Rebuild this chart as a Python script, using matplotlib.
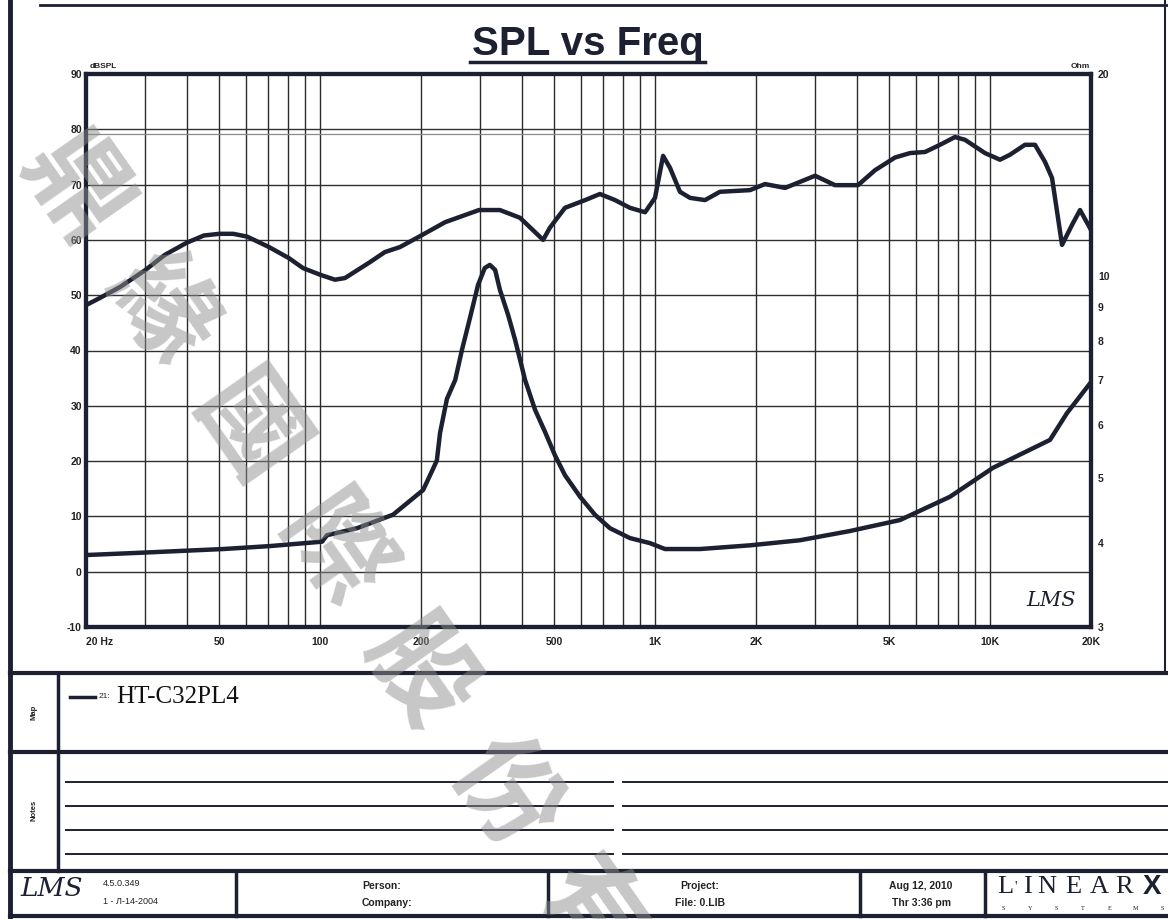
import matplotlib
matplotlib.use('Agg')
import matplotlib.pyplot as plt
from matplotlib.ticker import FixedLocator, NullLocator, NullFormatter

# ---------------- data ----------------
spl_freq = [20, 22, 25.3, 30, 34.4, 40, 45, 50, 55, 60.5, 70.4, 80.7, 88.9, 100, 110.7, 118.6,
            141, 156, 173, 199, 236, 298, 344, 395, 438, 463, 485, 538, 618, 684, 759, 841,
            933, 999, 1056, 1108, 1186, 1271, 1409, 1561, 1919, 2128, 2442, 3002, 3442, 4032,
            4532, 5200, 5766, 6392, 7086, 7852, 8412, 9652, 10700, 11460, 12700, 13610, 14580,
            15300, 16390, 17550, 18550, 20000]
spl_db = [48.2, 49.5, 51.5, 54.5, 57.3, 59.5, 60.8, 61.1, 61.1, 60.6, 58.7, 56.7, 54.9, 53.7, 52.8, 53.1,
          56.0, 57.8, 58.7, 60.7, 63.2, 65.4, 65.4, 64.0, 61.4, 60.0, 62.2, 65.8, 67.2, 68.3, 67.2, 65.8,
          65.0, 67.6, 75.2, 73.0, 68.7, 67.6, 67.2, 68.7, 69.0, 70.1, 69.4, 71.6, 69.9, 69.9,
          72.6, 74.9, 75.7, 75.9, 77.2, 78.6, 78.1, 75.7, 74.5, 75.4, 77.2, 77.2, 74.1,
          71.2, 59.1, 62.7, 65.4, 61.8]

imp_freq = [20, 29, 51.3, 70.8, 101.3, 104.8, 128.8, 165, 203, 216, 223, 228, 239, 253, 265, 280,
            296, 310, 321, 333, 344, 364, 382, 409, 438, 469, 502, 538, 597, 661, 733, 841, 965,
            1070, 1361, 1919, 2706, 3816, 5382, 7588, 10200, 15090, 16960, 20000]
imp_ohm = [3.84, 3.87, 3.92, 3.96, 4.02, 4.11, 4.21, 4.41, 4.80, 5.13, 5.31, 5.84, 6.56, 7.0, 7.76, 8.66,
           9.70, 10.28, 10.39, 10.21, 9.54, 8.75, 8.03, 7.0, 6.32, 5.86, 5.41, 5.05, 4.69, 4.41, 4.21, 4.07, 4.00,
           3.92, 3.92, 3.97, 4.04, 4.17, 4.33, 4.69, 5.18, 5.70, 6.25, 6.95]

x_ticks = [20, 50, 100, 200, 500, 1000, 2000, 5000, 10000, 20000]
x_labels = ['20 Hz', '50', '100', '200', '500', '1K', '2K', '5K', '10K', '20K']
x_grid = [30, 40, 60, 70, 80, 90, 300, 400, 600, 700, 800, 900,
          3000, 4000, 6000, 7000, 8000, 9000]
db_ticks = [-10, 0, 10, 20, 30, 40, 50, 60, 70, 80, 90]
ohm_ticks = [3, 4, 5, 6, 7, 8, 9, 10, 20]
ohm_labels = ['3', '4', '5', '6', '7', '8', '9', '10', '20']

watermark = list('鼎緣國際股份有')

# ---------------- figure ----------------
W, H = 1168, 919
INK = '#1c2030'
SANS = 'Liberation Sans'
fig = plt.figure(figsize=(W / 100, H / 100), dpi=100)
fig.patch.set_facecolor('white')

bg = fig.add_axes([0, 0, 1, 1])
bg.set_xlim(0, W)
bg.set_ylim(H, 0)
bg.axis('off')


def rect(x0, y0, x1, y1):
    return [x0 / W, 1 - y1 / H, (x1 - x0) / W, (y1 - y0) / H]


ax = fig.add_axes(rect(86, 74, 1091, 627))
ax.set_xscale('log')
ax.set_xlim(20, 20000)
ax.set_ylim(-10, 90)
ax.xaxis.set_major_locator(FixedLocator(x_ticks))
ax.set_xticklabels(x_labels)
ax.xaxis.set_minor_locator(FixedLocator(x_grid))
ax.xaxis.set_minor_formatter(NullFormatter())
ax.set_yticks(db_ticks)
ax.set_yticklabels([str(v) for v in db_ticks])
ax.tick_params(axis='both', which='both', length=0)
ax.tick_params(axis='x', pad=7)
ax.tick_params(axis='y', pad=3)
for lab in ax.get_xticklabels() + ax.get_yticklabels():
    lab.set_fontfamily(SANS)
    lab.set_fontweight('bold')
    lab.set_fontsize(7.5)
    lab.set_color('#222222')
ax.get_xticklabels()[0].set_ha('left')
ax.grid(True, which='both', axis='x', color='#2a2a2a', lw=1.0)
ax.grid(True, which='major', axis='y', color='#303030', lw=1.0)
ax.axhline(79.2, color='#8a8a8a', lw=0.9)
for s in ax.spines.values():
    s.set_linewidth(3)
    s.set_color(INK)
ax.plot(spl_freq, spl_db, color=INK, lw=3.2, solid_joinstyle='round', zorder=3)

ax2 = ax.twinx()
ax2.set_yscale('log')
ax2.set_ylim(3, 20)
ax2.yaxis.set_major_locator(FixedLocator(ohm_ticks))
ax2.set_yticklabels(ohm_labels)
ax2.yaxis.set_minor_locator(NullLocator())
ax2.tick_params(axis='y', which='both', length=0, pad=5)
for lab in ax2.get_yticklabels():
    lab.set_fontfamily(SANS)
    lab.set_fontweight('bold')
    lab.set_fontsize(7.5)
    lab.set_color('#222222')
for s in ax2.spines.values():
    s.set_linewidth(3)
    s.set_color(INK)
ax2.plot(imp_freq, imp_ohm, color=INK, lw=3.2, solid_joinstyle='round', zorder=3)

ax2.text(0.985, 0.03, 'LMS', transform=ax2.transAxes, ha='right', va='bottom',
         fontsize=15, style='italic', family='DejaVu Serif', color=INK)

# ---------------- page decorations ----------------
bg.text(90, 66, 'dBSPL', fontsize=6, fontweight='bold', family=SANS, ha='left', va='center', color='#222')
bg.text(1090, 66, 'Ohm', fontsize=6, fontweight='bold', family=SANS, ha='right', va='center', color='#222')

bg.text(588, 55, 'SPL vs Freq', fontsize=29, fontweight='bold', family=SANS,
        ha='center', va='baseline', color=INK)
bg.plot([470, 705], [62, 62], color=INK, lw=2.5)

# outer frame
bg.plot([10, 10], [0, H], color=INK, lw=3.5)
bg.plot([40, W], [5, 5], color=INK, lw=2)
bg.plot([1165, 1165], [0, 673], color=INK, lw=1.5)

for yy in [673, 752, 871, 916]:
    bg.plot([10, W], [yy, yy], color=INK, lw=3)
bg.plot([58, 58], [673, 871], color=INK, lw=2.5)

for yy in [782, 806, 830, 854]:
    bg.plot([66, 613], [yy, yy], color=INK, lw=1.4)
    bg.plot([623, W], [yy, yy], color=INK, lw=1.4)

for xx in [236, 548, 860, 985]:
    bg.plot([xx, xx], [871, 916], color=INK, lw=2.5)

bg.text(34, 712, 'Map', rotation=90, fontsize=5.5, fontweight='bold', family=SANS,
        ha='center', va='center', color='#222')
bg.text(34, 810, 'Notes', rotation=90, fontsize=5.5, fontweight='bold', family=SANS,
        ha='center', va='center', color='#222')

bg.plot([70, 95], [697, 697], color=INK, lw=2.5)
bg.text(99, 697, '21:', fontsize=6, family=SANS, ha='left', va='center', color='#222')
bg.text(116, 697, 'HT-C32PL4', fontsize=18, family='Liberation Serif', ha='left', va='center', color='#111')

# footer
bg.text(52, 889, 'LMS', fontsize=19, style='italic', family='DejaVu Serif', ha='center', va='center', color=INK)
bg.text(103, 884, '4.5.0.349', fontsize=6.5, family=SANS, ha='left', va='center', color='#222')
bg.text(103, 901, '1 - Л-14-2004', fontsize=6.5, family=SANS, ha='left', va='center', color='#222')
bg.text(362, 886, 'Person:', fontsize=7.5, fontweight='bold', family=SANS, ha='left', va='center', color='#222')
bg.text(362, 903, 'Company:', fontsize=7.5, fontweight='bold', family=SANS, ha='left', va='center', color='#222')
bg.text(700, 886, 'Project:', fontsize=7.5, fontweight='bold', family=SANS, ha='center', va='center', color='#222')
bg.text(700, 903, 'File: 0.LIB', fontsize=7.5, fontweight='bold', family=SANS, ha='center', va='center', color='#222')
bg.text(921, 886, 'Aug 12, 2010', fontsize=7.5, fontweight='bold', family=SANS, ha='center', va='center', color='#222')
bg.text(921, 903, 'Thr 3:36 pm', fontsize=7.5, fontweight='bold', family=SANS, ha='center', va='center', color='#222')

for ch, xx in zip("L'INEAR", [1005, 1016, 1027, 1047, 1073, 1099, 1124]):
    bg.text(xx, 887, ch, fontsize=19 if ch != "'" else 10, family='Liberation Serif',
            ha='center', va='center', color=INK)
bg.text(1152, 887, 'X', fontsize=20, fontweight='bold', family=SANS, ha='center', va='center', color=INK)
for ch, xx in zip('SYSTEMS', [1003, 1030, 1056, 1083, 1110, 1136, 1162]):
    bg.text(xx, 909, ch, fontsize=4.5, family='Liberation Serif', ha='center', va='center', color='#222')

# watermark
x0, y0, dx, dy = 74, 190, 86, 121
for i, ch in enumerate(watermark):
    bg.text(x0 + i * dx, y0 + i * dy, ch, fontsize=76, fontweight='bold',
            family=['Noto Sans CJK TC', 'DejaVu Sans'],
            rotation=-55, rotation_mode='anchor', ha='center', va='center',
            color='#8f8f8f', alpha=0.5, zorder=10)
bg.set_zorder(5)
bg.patch.set_alpha(0)

fig.savefig('out.png', dpi=100, facecolor='white')
